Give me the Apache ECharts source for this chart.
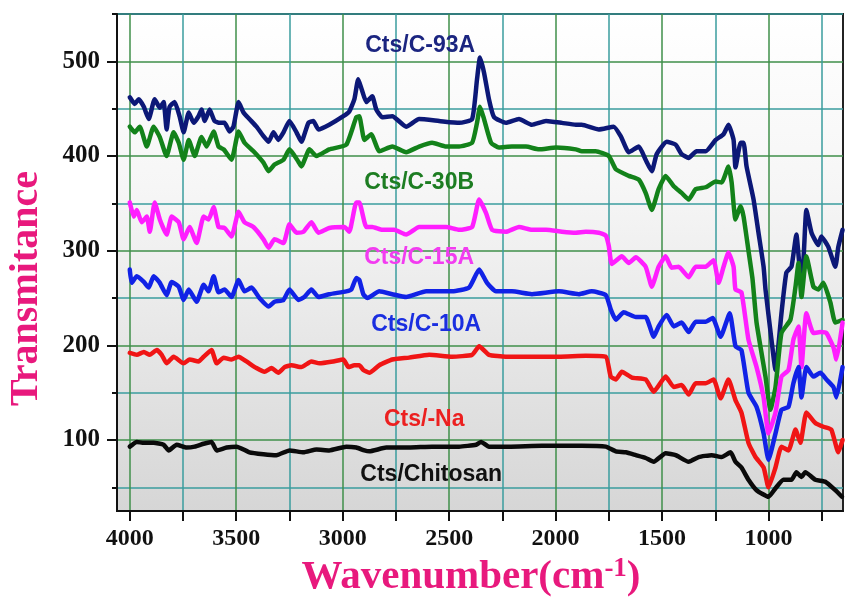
<!DOCTYPE html>
<html>
<head>
<meta charset="utf-8">
<script src="https://cdn.jsdelivr.net/npm/echarts@6/dist/echarts.min.js"></script>
<style>
html,body{margin:0;padding:0;background:#fff;}
#chart{width:846px;height:599px;}
</style>
</head>
<body>
<div id="chart"></div>
<script>
// ---- data (wavenumber cm-1, transmitance) ----
const seriesNames = ['Cts/C-93A','Cts/C-30B','Cts/C-15A','Cts/C-10A','Cts/-Na','Cts/Chitosan'];

const c93A = [[4000,462],[3977,455],[3958,460],[3934,452],[3911,439],[3883,460],[3859,451],[3841,457],[3827,428],[3813,452],[3789,457],[3766,442],[3747,425],[3723,446],[3700,435],[3677,442],[3663,449],[3648,437],[3625,449],[3602,437],[3578,435],[3555,435],[3531,426],[3513,431],[3489,457],[3466,446],[3438,439],[3405,431],[3372,421],[3348,415],[3325,425],[3302,417],[3278,425],[3250,437],[3217,425],[3194,415],[3161,435],[3138,437],[3114,428],[3063,433],[2997,442],[2969,447],[2945,460],[2927,481],[2910,470],[2889,457],[2861,463],[2842,449],[2814,441],[2767,442],[2702,431],[2641,439],[2547,437],[2453,435],[2392,439],[2369,481],[2355,504],[2336,488],[2313,460],[2289,441],[2233,435],[2172,439],[2111,433],[2045,437],[1970,435],[1905,433],[1877,433],[1797,428],[1727,431],[1694,421],[1656,404],[1609,410],[1577,396],[1548,384],[1525,402],[1478,415],[1436,412],[1408,402],[1375,398],[1338,405],[1295,405],[1248,417],[1211,423],[1188,433],[1164,417],[1155,388],[1131,414],[1117,414],[1103,389],[1070,354],[1047,319],[1023,283],[1014,259],[986,206],[967,174],[939,234],[916,277],[892,283],[869,317],[850,277],[836,290],[822,343],[798,319],[766,306],[752,315],[719,304],[686,283],[672,304],[652,322]];

const c30B = [[4000,431],[3977,425],[3953,431],[3920,410],[3888,431],[3859,420],[3827,400],[3794,425],[3770,414],[3747,396],[3723,417],[3695,400],[3663,420],[3639,410],[3606,426],[3583,410],[3559,407],[3522,396],[3489,426],[3461,414],[3419,405],[3372,393],[3348,384],[3320,391],[3278,396],[3250,407],[3208,394],[3194,389],[3156,407],[3123,400],[3063,407],[2983,412],[2936,441],[2922,442],[2898,417],[2866,423],[2828,405],[2767,410],[2702,404],[2641,410],[2580,414],[2514,410],[2453,410],[2392,414],[2369,435],[2355,452],[2336,439],[2303,414],[2266,409],[2205,410],[2139,410],[2078,407],[1998,409],[1905,407],[1877,405],[1811,405],[1750,400],[1717,386],[1656,379],[1609,375],[1577,361],[1548,343],[1516,365],[1483,379],[1445,368],[1408,361],[1375,354],[1342,365],[1295,367],[1248,373],[1220,372],[1188,389],[1173,372],[1155,333],[1131,347],[1117,336],[1094,300],[1075,270],[1056,224],[1014,167],[991,132],[967,156],[939,213],[897,227],[873,262],[859,287],[845,251],[822,294],[789,262],[766,259],[742,266],[709,245],[686,224],[652,227]];

const c15A = [[4000,351],[3981,336],[3967,343],[3944,330],[3920,336],[3906,320],[3883,351],[3859,333],[3827,317],[3803,336],[3770,330],[3747,312],[3719,325],[3686,308],[3653,336],[3630,333],[3606,346],[3583,325],[3555,324],[3522,315],[3489,341],[3461,330],[3419,325],[3372,312],[3348,303],[3320,312],[3278,308],[3250,328],[3217,319],[3184,320],[3147,330],[3114,319],[3063,324],[2992,325],[2969,320],[2936,351],[2922,351],[2889,325],[2861,325],[2814,322],[2758,322],[2702,317],[2641,325],[2580,325],[2514,325],[2453,322],[2392,325],[2359,354],[2327,340],[2298,322],[2233,320],[2172,325],[2111,322],[2045,322],[1970,320],[1905,319],[1858,320],[1797,319],[1764,316],[1750,305],[1736,286],[1689,294],[1656,287],[1623,293],[1577,283],[1548,262],[1516,283],[1483,294],[1455,282],[1422,283],[1375,272],[1342,283],[1295,283],[1258,290],[1234,266],[1211,283],[1188,298],[1164,283],[1155,259],[1127,256],[1094,206],[1056,177],[1023,145],[1000,107],[967,129],[939,167],[906,174],[883,206],[859,220],[845,177],[822,234],[789,213],[756,214],[728,213],[695,198],[681,185],[652,224]];

const c10A = [[4000,280],[3991,266],[3967,273],[3934,267],[3911,261],[3888,273],[3859,266],[3827,253],[3803,267],[3770,262],[3747,248],[3723,259],[3686,246],[3653,264],[3630,257],[3606,273],[3583,256],[3555,259],[3522,251],[3489,269],[3461,257],[3428,261],[3391,250],[3348,241],[3320,246],[3278,248],[3250,259],[3208,248],[3180,251],[3147,259],[3114,251],[3063,254],[2983,257],[2959,259],[2936,271],[2922,269],[2903,254],[2884,250],[2828,257],[2767,254],[2702,251],[2608,257],[2486,257],[2406,261],[2359,280],[2322,266],[2280,257],[2205,257],[2111,254],[1984,257],[1891,254],[1830,257],[1764,253],[1741,238],[1717,227],[1680,235],[1623,230],[1577,230],[1539,209],[1516,220],[1478,232],[1445,220],[1408,224],[1375,214],[1342,225],[1295,225],[1262,229],[1225,209],[1182,234],[1155,199],[1127,195],[1094,150],[1056,135],[1023,107],[1000,79],[967,107],[939,132],[906,135],[883,160],[859,177],[845,145],[822,177],[789,167],[756,171],[728,164],[695,156],[681,145],[652,177]];

const cNa = [[4000,192],[3967,190],[3934,193],[3906,190],[3873,195],[3850,190],[3827,181],[3794,188],[3747,181],[3719,185],[3677,183],[3653,188],[3616,195],[3592,181],[3559,187],[3522,185],[3489,188],[3452,183],[3405,176],[3367,172],[3334,176],[3302,171],[3273,177],[3241,179],[3194,177],[3147,183],[3109,181],[3044,183],[2997,185],[2973,177],[2945,179],[2922,179],[2903,174],[2875,171],[2828,179],[2767,185],[2688,187],[2594,190],[2486,188],[2392,190],[2359,199],[2313,190],[2233,188],[2111,188],[1984,188],[1858,189],[1764,188],[1741,167],[1717,164],[1689,172],[1642,166],[1577,164],[1539,151],[1483,167],[1445,156],[1408,158],[1375,148],[1342,160],[1295,160],[1258,164],[1225,144],[1188,164],[1155,142],[1127,129],[1094,97],[1061,82],[1023,71],[1000,50],[967,71],[939,93],[906,89],[873,111],[850,97],[822,129],[780,118],[742,114],[705,111],[672,87],[652,100]];

const cChitosan = [[4000,93],[3967,98],[3934,97],[3888,97],[3841,95],[3817,89],[3780,95],[3733,92],[3695,93],[3653,96],[3616,98],[3592,89],[3545,92],[3498,93],[3438,87],[3372,85],[3311,84],[3250,89],[3184,87],[3123,90],[3063,89],[2983,93],[2936,92],[2898,89],[2875,88],[2795,92],[2688,92],[2580,93],[2453,93],[2373,95],[2350,98],[2313,93],[2219,93],[2064,94],[1905,94],[1877,94],[1764,93],[1717,88],[1670,87],[1623,84],[1577,81],[1539,77],[1483,86],[1436,84],[1375,77],[1328,82],[1267,84],[1220,82],[1178,87],[1155,77],[1127,71],[1094,58],[1056,47],[1000,40],[967,49],[930,58],[892,58],[869,66],[845,61],[827,66],[780,58],[733,56],[686,47],[655,40]];

// series label anchor positions (data units)
const labelPos = [[2636,517],[2641,372],[2641,293],[2608,222],[2617,121],[2584,63]];

// ticks
const xMajorTicks = [1000,1500,2000,2500,3000,3500,4000];
const xMinorTicks = [750,1250,1750,2250,2750,3250,3750];
const yMajorTicks = [100,200,300,400,500];
const yMinorTicks = [50,150,250,350,450,550];

// ---- styling ----
const lineColors = ['#0c1877','#13821a','#ff1eff','#1122e6','#f01515','#0a0a0a'];
const labelColors = ['#1b2580','#1d7d22','#f23cf0','#1a2ee0','#ec2020','#111111'];
const pink = '#e8197d';
const serif = '"Liberation Serif","Times New Roman",serif';
const sans = '"Liberation Sans",Arial,sans-serif';
const greenGrid = '#3f8f4a';
const tealGrid = '#3a9c9e';

const allData = [c93A,c30B,c15A,c10A,cNa,cChitosan];

const chart = echarts.init(document.getElementById('chart'), null, {renderer:'canvas'});

const commonX = {type:'value', inverse:true, min:650, max:4060, position:'bottom'};
const commonY = {type:'value', min:25, max:550, position:'left'};
const plainNum = v => String(v);

const option = {
  animation:false,
  backgroundColor:'#ffffff',
  grid:{left:117,right:3,top:14,bottom:88,containLabel:false,outerBoundsMode:'none',
    show:true, borderColor:'#222', borderWidth:2,
    backgroundColor:{type:'linear',x:0,y:0,x2:0,y2:1,colorStops:[{offset:0,color:'#ffffff'},{offset:0.35,color:'#f6f6f6'},{offset:1,color:'#d6d6d6'}]}
  },
  xAxis:[
    Object.assign({}, commonX, {
      axisLine:{show:true,onZero:false,lineStyle:{color:'#111',width:2}},
      axisTick:{show:true,customValues:xMajorTicks,length:10,inside:false,lineStyle:{color:'#111',width:2}},
      axisLabel:{show:true,customValues:xMajorTicks,formatter:plainNum,margin:16,color:'#111',fontFamily:serif,fontWeight:'bold',fontSize:24},
      splitLine:{show:true,lineStyle:{color:greenGrid,width:1.5}},
      name:'{a|Wavenumber(cm}{s|-1}{a|)}',
      nameLocation:'middle', nameGap:42,
      nameTextStyle:{color:pink,fontFamily:serif,fontWeight:'bold',fontSize:41,padding:[0,18,0,0],
        rich:{a:{color:pink,fontFamily:serif,fontWeight:'bold',fontSize:41,lineHeight:44},
              s:{color:pink,fontFamily:serif,fontWeight:'bold',fontSize:27,verticalAlign:'top',lineHeight:44}}}
    }),
    Object.assign({}, commonX, {
      axisLine:{show:false,onZero:false},
      axisTick:{show:true,customValues:xMinorTicks,length:10,lineStyle:{color:'#111',width:2}},
      axisLabel:{show:false},
      splitLine:{show:true,lineStyle:{color:tealGrid,width:1.5}}
    })
  ],
  yAxis:[
    Object.assign({}, commonY, {
      axisLine:{show:true,onZero:false,lineStyle:{color:'#111',width:2}},
      axisTick:{show:true,customValues:yMajorTicks,length:10,lineStyle:{color:'#111',width:2}},
      axisLabel:{show:true,customValues:yMajorTicks,formatter:plainNum,margin:17,color:'#111',fontFamily:serif,fontWeight:'bold',fontSize:25},
      splitLine:{show:true,lineStyle:{color:greenGrid,width:1.5}},
      name:'Transmitance', nameLocation:'middle', nameRotate:90, nameGap:70,
      nameTextStyle:{color:pink,fontFamily:serif,fontWeight:'bold',fontSize:40,padding:[0,52,0,0]}
    }),
    Object.assign({}, commonY, {
      offset:0,
      axisLine:{show:false,onZero:false},
      axisTick:{show:true,customValues:yMinorTicks,length:5,lineStyle:{color:'#111',width:2}},
      axisLabel:{show:false},
      splitLine:{show:true,lineStyle:{color:tealGrid,width:1.5}}
    })
  ],
  series: allData.map((d,i)=>({
    name:seriesNames[i], type:'line', data:d, xAxisIndex:0, yAxisIndex:0,
    showSymbol:false, symbol:'none', z:10+i, smooth:0.15,
    lineStyle:{color:lineColors[i],width:4.5,join:'round',cap:'round'},
    itemStyle:{color:lineColors[i]},
    markPoint:{
      symbol:'circle', symbolSize:1, silent:true, animation:false,
      itemStyle:{color:'rgba(0,0,0,0)'},
      label:{show:true,position:'inside',formatter:seriesNames[i],color:labelColors[i],fontFamily:sans,fontWeight:'bold',fontSize:23},
      data:[{coord:labelPos[i]}]
    }
  }))
};
chart.setOption(option);
</script>
</body>
</html>
